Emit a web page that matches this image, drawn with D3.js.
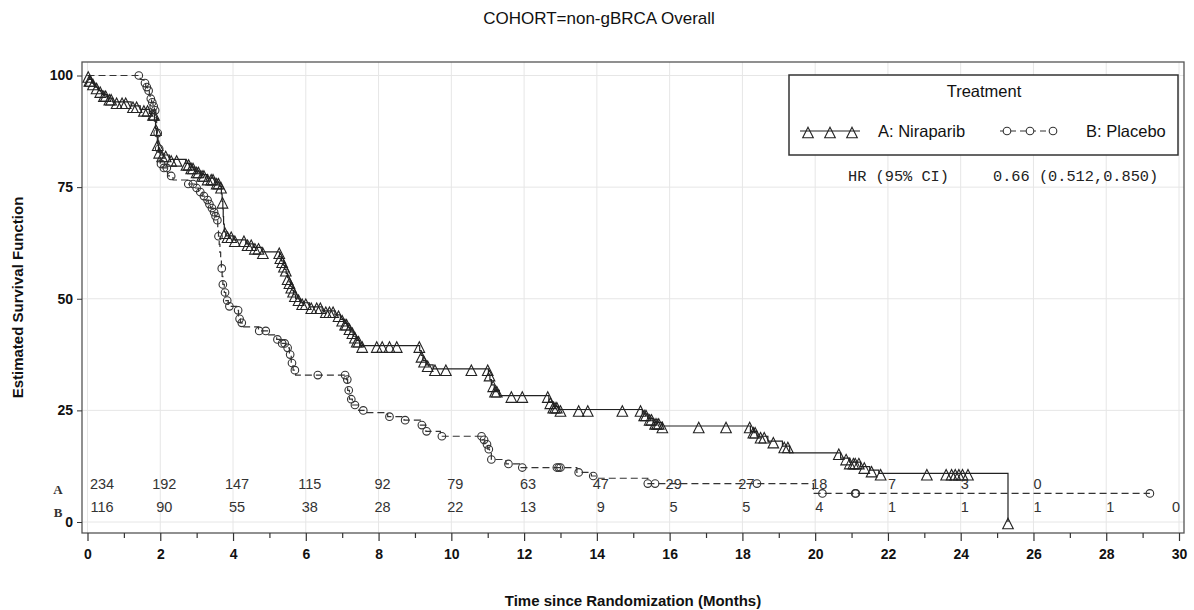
<!DOCTYPE html>
<html>
<head>
<meta charset="utf-8">
<script src="https://cdn.jsdelivr.net/npm/d3@7"></script>
<style>
  body { margin: 0; background: #fff; }
  text { font-family: "Liberation Sans", Arial, sans-serif; }
</style>
</head>
<body>
<svg id="chart" width="1194" height="610"></svg>
<script>
// Kaplan-Meier estimates (percent) — each step: [month, survival after the drop]
const niraparibSteps = [
  [0.05, 99.1], [0.12, 98.3], [0.2, 97.4], [0.3, 96.6], [0.4, 95.7], [0.55, 94.9], [0.7, 94.1],
  [1.2, 93.2], [1.45, 92.4], [1.7, 91.5],
  [1.84, 89.8], [1.87, 88.1], [1.9, 86.4], [1.92, 84.7], [1.95, 83.0], [2.0, 82.2], [2.25, 81.2],
  [2.7, 80.3], [2.8, 79.5], [2.95, 78.6], [3.1, 77.8], [3.3, 77.0], [3.5, 76.1], [3.62, 75.2],
  [3.68, 73.5], [3.7, 71.8], [3.72, 70.1], [3.73, 68.4], [3.74, 66.7], [3.76, 65.0], [3.8, 64.1], [4.0, 63.2],
  [4.35, 62.3], [4.55, 61.5], [4.8, 60.5],
  [5.28, 59.4], [5.33, 58.5], [5.38, 57.5], [5.42, 56.6], [5.46, 55.7], [5.5, 54.7], [5.54, 53.8],
  [5.58, 52.8], [5.62, 51.9], [5.66, 50.9], [5.72, 50.0],
  [5.85, 49.1], [6.1, 48.2], [6.45, 47.3], [6.8, 46.4], [6.95, 45.4], [7.05, 44.5], [7.15, 43.5],
  [7.22, 42.6], [7.3, 41.6], [7.38, 40.7], [7.48, 39.5],
  [9.13, 38.4], [9.17, 37.3], [9.22, 36.2], [9.3, 35.2], [9.5, 34.3],
  [11.02, 33.1], [11.06, 31.9], [11.1, 30.7], [11.18, 29.5], [11.32, 28.3],
  [12.68, 26.9], [12.8, 25.9], [12.95, 25.2],
  [15.25, 24.2], [15.4, 23.2], [15.55, 22.3], [15.8, 21.5],
  [18.22, 20.3], [18.4, 19.2], [18.7, 18.1], [19.1, 17.0], [19.3, 15.5],
  [20.7, 14.3], [20.95, 13.4], [21.25, 12.4], [21.5, 11.6], [21.75, 10.9],
  [25.3, 0]
];
const niraparibCensored = [
  0.02, 0.05, 0.08, 0.15, 0.25, 0.35, 0.45, 0.5, 0.6, 0.65, 0.8, 0.95, 1.05, 1.25, 1.35, 1.55, 1.65,
  1.8, 1.83, 1.88, 1.93, 1.97, 2.05, 2.15, 2.3, 2.45, 2.72, 2.78, 2.85, 2.9, 3.0, 3.05, 3.15, 3.2,
  3.3, 3.4, 3.45, 3.55, 3.6, 3.67, 3.71, 3.78, 3.85, 3.95, 4.05, 4.3, 4.4, 4.5, 4.6, 4.7, 4.82,
  5.27, 5.3, 5.35, 5.4, 5.45, 5.5, 5.55, 5.6, 5.65, 5.7, 5.8, 5.9, 6.0, 6.15, 6.3, 6.4, 6.55, 6.65,
  6.75, 6.9, 7.0, 7.08, 7.12, 7.2, 7.28, 7.35, 7.4, 7.45, 7.55, 7.95, 8.1, 8.3, 8.5,
  9.12, 9.18, 9.25, 9.35, 9.55, 9.85, 10.55, 11.0, 11.05, 11.15, 11.2, 11.25, 11.65, 11.95,
  12.65, 12.72, 12.8, 12.85, 12.9, 13.0, 13.5, 13.75, 14.7,
  15.2, 15.3, 15.35, 15.45, 15.5, 15.6, 15.65, 15.7, 15.8, 16.8, 17.55,
  18.2, 18.3, 18.35, 18.5, 18.6, 18.85, 19.15, 19.25,
  20.65, 20.85, 20.95, 21.05, 21.1, 21.2, 21.35, 21.55, 21.8,
  23.07, 23.6, 23.75, 23.85, 23.95, 24.05, 24.2, 25.3
];
const placeboSteps = [
  [1.45, 99.1], [1.55, 98.3], [1.6, 97.4], [1.65, 96.6], [1.7, 95.7], [1.72, 94.8], [1.76, 94.0],
  [1.8, 93.1], [1.84, 92.2], [1.88, 90.5], [1.9, 88.8], [1.92, 87.1], [1.94, 85.3], [1.96, 83.6],
  [1.98, 81.9], [2.0, 80.2], [2.05, 79.3], [2.2, 77.5], [2.35, 76.6],
  [2.75, 75.7], [2.95, 74.8], [3.05, 73.9], [3.15, 73.0], [3.25, 72.1], [3.32, 71.2], [3.38, 70.3],
  [3.45, 69.4], [3.5, 68.5], [3.55, 67.6], [3.58, 65.8], [3.6, 64.0], [3.62, 62.2], [3.64, 60.4],
  [3.66, 58.6], [3.68, 56.8], [3.7, 55.0], [3.72, 53.2], [3.76, 51.4], [3.8, 49.6], [3.87, 48.3],
  [4.1, 47.4], [4.15, 45.5], [4.2, 44.6], [4.25, 43.7],
  [4.7, 42.8], [4.95, 41.9], [5.2, 40.9], [5.3, 40.0], [5.45, 39.0], [5.55, 37.5], [5.6, 35.6],
  [5.65, 34.0], [5.72, 32.9],
  [7.12, 31.9], [7.15, 29.5], [7.2, 27.5], [7.28, 26.2], [7.45, 25.0], [7.6, 24.5],
  [8.25, 23.6], [8.7, 22.8], [9.15, 21.7], [9.3, 20.3], [9.7, 19.2],
  [10.85, 18.4], [10.92, 17.4], [11.0, 16.3], [11.05, 15.4], [11.1, 14.0], [11.5, 13.0], [11.9, 12.2],
  [13.45, 11.1], [13.85, 10.3], [14.0, 9.8], [15.4, 8.6], [19.95, 6.4]
];
const placeboCensored = [
  1.41, 1.58, 1.63, 1.68, 1.74, 1.78, 1.82, 1.86, 1.93, 1.97, 2.02, 2.1, 2.18, 2.3, 2.77, 2.9, 3.0,
  3.1, 3.2, 3.3, 3.35, 3.42, 3.48, 3.52, 3.57, 3.6, 3.69, 3.72, 3.78, 3.84, 3.9, 4.14, 4.18, 4.24,
  4.72, 4.9, 5.22, 5.35, 5.42, 5.5, 5.57, 5.62, 5.7, 6.33, 7.08, 7.14, 7.18, 7.25, 7.35, 7.58,
  8.3, 8.73, 9.19, 9.32, 9.74, 10.83, 10.9, 10.98, 11.03, 11.1, 11.57, 11.95, 12.9, 12.95, 13.0,
  13.5, 13.9, 15.4, 15.6, 18.4, 20.2, 21.1, 21.12, 29.2
];
const niraparibLastTime = 25.3;
const placeboLastTime = 29.2;

// Number at risk
const atRiskTimes = [0, 2, 4, 6, 8, 10, 12, 14, 16, 18, 20, 22, 24, 26, 28, 30];
const atRiskA = [234, 192, 147, 115, 92, 79, 63, 47, 29, 27, 18, 7, 3, 0];
const atRiskB = [116, 90, 55, 38, 28, 22, 13, 9, 5, 5, 4, 1, 1, 1, 1, 0];

// Axis ticks
const xTickValues = [0, 2, 4, 6, 8, 10, 12, 14, 16, 18, 20, 22, 24, 26, 28, 30];
const xMinorTicks = [1, 3, 5, 7, 9, 11, 13, 15, 17, 19, 21, 23, 25, 27, 29];
const yTickValues = [0, 25, 50, 75, 100];

const chartTitle = "COHORT=non-gBRCA Overall";
const xTitle = "Time since Randomization (Months)";
const yTitle = "Estimated Survival Function";
const legendTitle = "Treatment";
const seriesNames = ["A: Niraparib", "B: Placebo"];
const hrLabel = "HR (95% CI)";
const hrValue = "0.66 (0.512,0.850)";

const svg = d3.select("#chart");
const frame = { left: 82, right: 1184, top: 62, bottom: 533 };

const x = d3.scaleLinear().domain([0, 30]).range([87.5, 1179]);
const y = d3.scaleLinear().domain([0, 100]).range([522, 75.5]);

// Gridlines
const grid = svg.append("g").attr("stroke", "#e6e6e6").attr("stroke-width", 1);
grid.selectAll("line.v").data(xTickValues).join("line")
  .attr("x1", d => x(d)).attr("x2", d => x(d))
  .attr("y1", frame.top).attr("y2", frame.bottom);
grid.selectAll("line.h").data(yTickValues).join("line")
  .attr("x1", frame.left).attr("x2", frame.right)
  .attr("y1", d => y(d)).attr("y2", d => y(d));

// Frame
svg.append("rect")
  .attr("x", frame.left).attr("y", frame.top)
  .attr("width", frame.right - frame.left).attr("height", frame.bottom - frame.top)
  .attr("fill", "none").attr("stroke", "#555").attr("stroke-width", 1.3);

// X axis: major + minor ticks below frame
const xAxisMajor = d3.axisBottom(x).tickValues(xTickValues).tickSize(8).tickPadding(8).tickFormat(d3.format("d"));
const gx = svg.append("g").attr("transform", `translate(0,${frame.bottom})`).call(xAxisMajor);
gx.select(".domain").remove();
gx.selectAll(".tick line").attr("stroke", "#333").attr("stroke-width", 1.2);
gx.selectAll(".tick text").attr("font-size", 14).attr("font-weight", "bold").attr("fill", "#111")
  .style("font-family", "'Liberation Sans', Arial, sans-serif");
const gxMinor = svg.append("g").attr("transform", `translate(0,${frame.bottom})`)
  .call(d3.axisBottom(x).tickValues(xMinorTicks).tickSize(5).tickFormat(""));
gxMinor.select(".domain").remove();
gxMinor.selectAll(".tick line").attr("stroke", "#333").attr("stroke-width", 1.2);

// Y axis
const gy = svg.append("g").attr("transform", `translate(${frame.left},0)`)
  .call(d3.axisLeft(y).tickValues(yTickValues).tickSize(5).tickPadding(4).tickFormat(d3.format("d")));
gy.select(".domain").remove();
gy.selectAll(".tick line").attr("stroke", "#333");
gy.selectAll(".tick text").attr("font-size", 14).attr("font-weight", "bold").attr("fill", "#111")
  .style("font-family", "'Liberation Sans', Arial, sans-serif");

// Titles
svg.append("text").attr("x", 599).attr("y", 24).attr("text-anchor", "middle")
  .attr("font-size", 17).attr("fill", "#111").text(chartTitle);
svg.append("text").attr("x", (frame.left + frame.right) / 2).attr("y", 606).attr("text-anchor", "middle")
  .attr("font-size", 15).attr("font-weight", "bold").attr("fill", "#111").text(xTitle);
svg.append("text").attr("transform", `translate(23,${(frame.top + frame.bottom) / 2}) rotate(-90)`)
  .attr("text-anchor", "middle").attr("font-size", 15).attr("font-weight", "bold").attr("fill", "#111").text(yTitle);

// Step curves
function survAt(steps, t) {
  let s = 100;
  for (const [tt, v] of steps) if (tt <= t) s = v;
  return s;
}
const stepLine = d3.line().x(d => x(d[0])).y(d => y(d[1])).curve(d3.curveStepAfter);
const niraparibPts = [[0, 100], ...niraparibSteps, [niraparibLastTime, survAt(niraparibSteps, niraparibLastTime)]];
const placeboPts = [[0, 100], ...placeboSteps, [placeboLastTime, survAt(placeboSteps, placeboLastTime)]];

svg.append("path").attr("d", stepLine(placeboPts)).attr("fill", "none")
  .attr("stroke", "#333").attr("stroke-width", 1.2).attr("stroke-dasharray", "7,4");
svg.append("path").attr("d", stepLine(niraparibPts)).attr("fill", "none")
  .attr("stroke", "#222").attr("stroke-width", 1.2);

// Censoring markers
const openTriangle = {
  draw(ctx) {
    ctx.moveTo(0, -3.8); ctx.lineTo(5.3, 6.7); ctx.lineTo(-5.3, 6.7); ctx.closePath();
  }
};
const triSym = d3.symbol().type(openTriangle);
svg.append("g").selectAll("path").data(niraparibCensored).join("path")
  .attr("d", triSym)
  .attr("transform", t => `translate(${x(t)},${y(survAt(niraparibSteps, t))})`)
  .attr("fill", "none").attr("stroke", "#222").attr("stroke-width", 1.1);

svg.append("g").selectAll("circle").data(placeboCensored).join("circle")
  .attr("cx", t => x(t)).attr("cy", t => y(survAt(placeboSteps, t))).attr("r", 3.8)
  .attr("fill", "none").attr("stroke", "#333").attr("stroke-width", 1.1);

// Number-at-risk rows
function riskX(t, label) {
  const half = label.length * 4;
  let cx = x(t) + 4;
  cx = Math.max(cx, frame.left + 8 + half);
  cx = Math.min(cx, frame.right - 4 - half);
  return cx;
}
const riskRows = [
  { key: "A", values: atRiskA, yPos: 489 },
  { key: "B", values: atRiskB, yPos: 512 }
];
riskRows.forEach(row => {
  svg.append("g").selectAll("text").data(row.values).join("text")
    .attr("x", (v, i) => riskX(atRiskTimes[i], String(v)))
    .attr("y", row.yPos).attr("text-anchor", "middle")
    .attr("font-size", 14.5).attr("fill", "#333").text(v => v);
  svg.append("text").attr("x", 58).attr("y", row.yPos + 5).attr("text-anchor", "middle")
    .style("font-family", "'Liberation Serif', 'Times New Roman', serif")
    .attr("font-size", 13).attr("font-weight", "bold").attr("fill", "#333").text(row.key);
});

// Legend
const lg = svg.append("g");
lg.append("rect").attr("x", 789).attr("y", 75).attr("width", 389).attr("height", 80)
  .attr("fill", "#fff").attr("stroke", "#333").attr("stroke-width", 1.5);
lg.append("text").attr("x", 984).attr("y", 97).attr("text-anchor", "middle")
  .attr("font-size", 16.5).attr("fill", "#111").text(legendTitle);
const legendY = 131;
lg.append("line").attr("x1", 800).attr("x2", 860).attr("y1", legendY).attr("y2", legendY)
  .attr("stroke", "#222").attr("stroke-width", 1.2);
lg.selectAll("path.tri").data([808, 830, 852]).join("path").attr("class", "tri")
  .attr("d", triSym).attr("transform", d => `translate(${d},${legendY})`)
  .attr("fill", "none").attr("stroke", "#222").attr("stroke-width", 1.1);
lg.append("text").attr("x", 878).attr("y", legendY + 6).attr("font-size", 16.5).attr("fill", "#111").text(seriesNames[0]);
lg.append("line").attr("x1", 1000).attr("x2", 1060).attr("y1", legendY).attr("y2", legendY)
  .attr("stroke", "#333").attr("stroke-width", 1.2).attr("stroke-dasharray", "6,4");
lg.selectAll("circle").data([1007, 1030, 1053]).join("circle")
  .attr("cx", d => d).attr("cy", legendY).attr("r", 3.8)
  .attr("fill", "#fff").attr("stroke", "#333").attr("stroke-width", 1.1);
lg.append("text").attr("x", 1086).attr("y", legendY + 6).attr("font-size", 16.5).attr("fill", "#111").text(seriesNames[1]);

svg.append("text").attr("x", 848).attr("y", 181)
  .style("font-family", "'Liberation Mono', 'Courier New', monospace")
  .attr("font-size", 15.3).attr("fill", "#222").text(hrLabel);
svg.append("text").attr("x", 993).attr("y", 181)
  .style("font-family", "'Liberation Mono', 'Courier New', monospace")
  .attr("font-size", 15.3).attr("fill", "#222").text(hrValue);
</script>
</body>
</html>
